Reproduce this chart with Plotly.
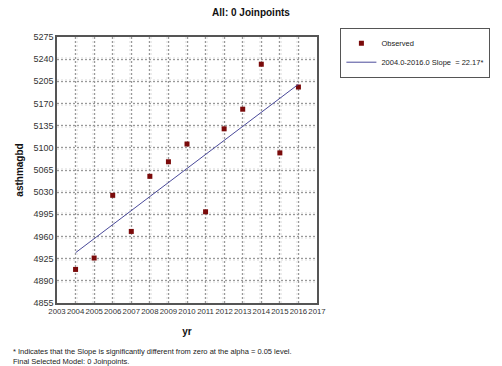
import plotly.graph_objects as go

years = [2004, 2005, 2006, 2007, 2008, 2009, 2010, 2011, 2012, 2013, 2014, 2015, 2016]
observed = [4908, 4926, 5025, 4968, 5055, 5078, 5106, 4999, 5130, 5161, 5232, 5092, 5196]
fit_years = [2004, 2016]
fit_values = [4934.4, 5200.4]
x_ticks = list(range(2003, 2018))
y_ticks = list(range(4855, 5276, 35))

FONT = "Liberation Sans, Arial, sans-serif"

fig = go.Figure()
fig.add_trace(go.Scatter(
    x=years, y=observed, mode="markers", name="Observed",
    marker=dict(symbol="square", size=5, color="#7a0a0a"),
))
fig.add_trace(go.Scatter(
    x=fit_years, y=fit_values, mode="lines", name="2004.0-2016.0 Slope  = 22.17*",
    line=dict(color="#4a4a9a", width=1),
))

fig.update_layout(
    width=502, height=366,
    margin=dict(l=57, r=165, t=37, b=63),
    paper_bgcolor="white", plot_bgcolor="white",
    font=dict(family=FONT, size=9, color="#333"),
    title=dict(text="<b>All: 0 Joinpoints</b>", x=0.5, xref="container",
               y=1 - 12 / 366, yref="container", yanchor="middle", xanchor="center",
               font=dict(size=10, color="#111")),
    legend=dict(x=1.09, y=1.035, xanchor="left", yanchor="top",
                bordercolor="#555", borderwidth=1, bgcolor="white",
                font=dict(size=7.5, color="#222"), tracegroupgap=0,
                itemwidth=30),
    showlegend=True,
)
grid_common = dict(
    showgrid=True, gridcolor="#999", griddash="2px,2px", gridwidth=1,
    showline=True, linecolor="#555", linewidth=1.5, mirror=True,
    zeroline=False, ticks="",
)
fig.update_xaxes(
    range=[2003, 2017], tickmode="array", tickvals=x_ticks, ticktext=[str(v) for v in x_ticks],
    tickangle=0, tickfont=dict(size=7.8, color="#333"),
    minor=dict(tickmode="array", tickvals=x_ticks, showgrid=True, gridcolor="#ececec", gridwidth=4),
    title=dict(text="<b>yr</b>", font=dict(size=10, color="#111"), standoff=13),
    **grid_common,
)
fig.update_yaxes(
    range=[4855, 5275], tickmode="array", tickvals=y_ticks, ticktext=[str(v) for v in y_ticks],
    tickfont=dict(size=9, color="#333"),
    minor=dict(tickmode="array", tickvals=y_ticks, showgrid=True, gridcolor="#ececec", gridwidth=4),
    title=dict(text="<b>asthmagbd</b>", font=dict(size=10, color="#111"), standoff=8),
    **grid_common,
)
fig.add_annotation(
    text="* Indicates that the Slope is significantly different from zero at the alpha = 0.05 level.<br>Final Selected Model: 0 Joinpoints.",
    xref="paper", yref="paper", x=(7 - 57) / 280, y=(303 - 345) / 266,
    xanchor="left", yanchor="top", align="left", showarrow=False,
    font=dict(size=7.5, color="#222"),
)

fig.write_html("out.html")
